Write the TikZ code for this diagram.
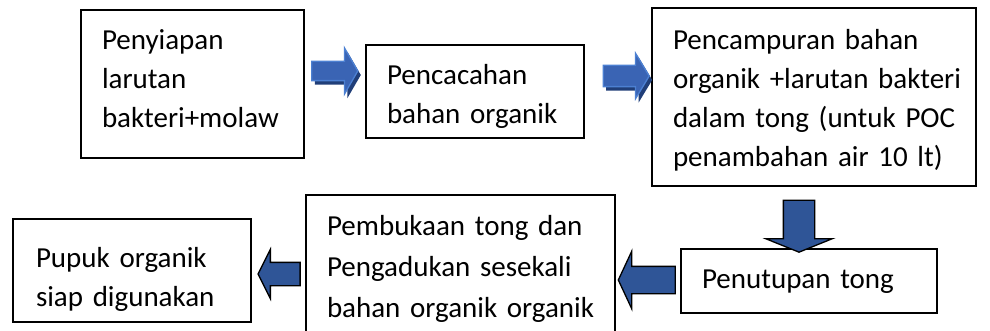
\documentclass[tikz,border=0pt]{standalone}
\usepackage{fontspec}
\setmainfont{Carlito}
\usetikzlibrary{shapes.arrows,shadows}

\newcommand{\stepfont}{\fontsize{29}{39}\selectfont}
\definecolor{arrowblue}{HTML}{2F5597}
\definecolor{arrowlight}{HTML}{3A64B4}
\definecolor{arrowedge}{HTML}{4C80D2}
\definecolor{arrowdark}{HTML}{203E78}

\tikzset{
  stepbox/.style={draw, line width=1.1pt, inner xsep=21pt, inner ysep=0pt,
    outer sep=0pt, align=left, anchor=north west, font=\stepfont},
  blockarrow/.style={single arrow, inner sep=0pt, outer sep=0pt, fill=arrowblue,
    draw=black, line width=1.3pt},
  fancyarrow/.style={blockarrow, fill=arrowlight, draw=arrowedge,
    drop shadow={shadow xshift=3pt, shadow yshift=-4pt, fill=arrowdark, opacity=1}}
}

\begin{document}
\begin{tikzpicture}[x=1pt,y=-1pt]

    \clip (0,0) rectangle (990,331);

    % top row
    \node[stepbox, text width=181pt, text height=40pt, text depth=108pt] (bakteri) at (81,10)
      {Penyiapan\\larutan\\bakteri+molaw};
    \node[stepbox, text width=176pt, text height=40pt, text depth=53pt] (cacah) at (366,45)
      {Pencacahan\\bahan organik};
    \node[stepbox, text width=282pt, text height=42pt, text depth=136pt] (campur) at (652,8)
      {\mbox{Pencampuran bahan}\\\mbox{organik +larutan bakteri}\\\mbox{dalam tong (untuk POC}\\\mbox{penambahan air 10 lt)}};

    % bottom row
    \node[stepbox, text width=214pt, text height=39pt, text depth=25pt] (tutup) at (681,249)
      {Penutupan tong};
    \node[stepbox, text width=267pt, text height=40pt, text depth=107pt,
      font={\fontsize{29}{41}\selectfont}] (aduk) at (306,195)
      {Pembukaan tong dan\\Pengadukan sesekali\\\mbox{bahan organik organik}};
    \node[stepbox, inner xsep=23pt, text width=192pt, text height=48pt, text depth=55pt] (pupuk) at (13,219)
      {Pupuk organik\\siap digunakan};

    % arrows between the steps
    \node[fancyarrow, minimum height=46pt, minimum width=45pt, inner ysep=9pt,
      single arrow head extend=13.5pt, single arrow tip angle=120] (a1) at (332,71) {};
    \node[fancyarrow, minimum height=46pt, minimum width=44pt, inner ysep=10pt,
      single arrow head extend=12pt, single arrow tip angle=118] (a2) at (623,76) {};
    \node[blockarrow, rotate=-90, minimum height=52pt, minimum width=65pt, inner ysep=15pt,
      single arrow head extend=17.5pt, single arrow tip angle=136] (a3) at (799,223) {};
    \node[blockarrow, rotate=180, minimum height=57pt, minimum width=56pt, inner ysep=13pt,
      single arrow head extend=15pt, single arrow tip angle=130] (a5) at (650,280) {};
    \node[blockarrow, rotate=180, minimum height=42pt, minimum width=48pt, inner ysep=11pt,
      single arrow head extend=13pt, single arrow tip angle=127] (a4) at (282,274) {};

\end{tikzpicture}
\end{document}
